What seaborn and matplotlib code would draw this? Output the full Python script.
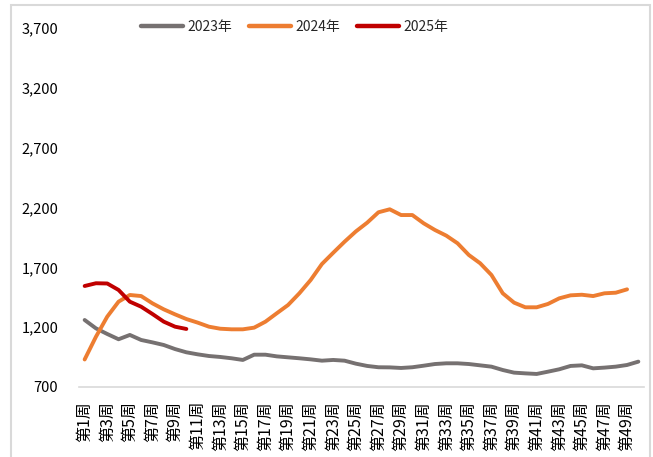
import pandas as pd
import seaborn as sns
import matplotlib.pyplot as plt
from matplotlib.patches import Rectangle
from matplotlib.lines import Line2D
from matplotlib.ticker import FuncFormatter

# weekly values
weeks = list(range(1, 51))
tick_weeks = list(range(1, 50, 2))
tick_labels = [f"第{w}周" for w in tick_weeks]

y2023 = [1260, 1190, 1143, 1099, 1135, 1093, 1073, 1051, 1017, 990,
         973, 959, 951, 940, 926, 970, 970, 956, 948, 940,
         931, 920, 926, 920, 895, 876, 865, 864, 859, 865,
         878, 892, 898, 898, 892, 881, 870, 842, 820, 814,
         809, 828, 848, 876, 881, 856, 862, 870, 884, 912]
y2024 = [930, 1120, 1288, 1413, 1469, 1460, 1399, 1349, 1307, 1268,
         1238, 1204, 1187, 1182, 1182, 1196, 1246, 1316, 1385, 1483,
         1594, 1728, 1822, 1914, 2000, 2073, 2160, 2185, 2137, 2137,
         2068, 2012, 1965, 1901, 1803, 1734, 1636, 1483, 1405, 1366,
         1366, 1394, 1441, 1466, 1471, 1460, 1483, 1488, 1516]
y2025 = [1544, 1567, 1565, 1511, 1413, 1371, 1310, 1246, 1204, 1185]

series = ["2023年", "2024年", "2025年"]
colors = ["#767171", "#ED7D31", "#C00000"]

rows = []
for name, vals in zip(series, [y2023, y2024, y2025]):
    for w, v in zip(weeks, vals):
        rows.append({"week": w, "value": v, "year": name})
df = pd.DataFrame(rows)

sns.set_theme(style="white")
plt.rcParams["font.family"] = ["Noto Sans CJK SC", "DejaVu Sans"]

fig = plt.figure(figsize=(6.53, 4.57), dpi=100)
ax = fig.add_axes([79 / 653, 70 / 457, 565 / 653, 359 / 457])

sns.lineplot(data=df, x="week", y="value", hue="year", hue_order=series,
             palette=colors, linewidth=2.8, ax=ax, legend=False,
             solid_capstyle="round")

ax.set_xlim(0.5, 50.5)
ax.set_ylim(700, 3700)
ax.set_yticks(range(700, 3701, 500))
ax.yaxis.set_major_formatter(FuncFormatter(lambda v, p: f"{int(v):,}"))
ax.set_xticks(tick_weeks)
ax.set_xticklabels(tick_labels, rotation=90, fontsize=11.5)
ax.tick_params(axis="y", length=0, pad=15, labelsize=10.5, colors="black")
ax.tick_params(axis="x", length=0, pad=10, colors="black")
ax.set_xlabel("")
ax.set_ylabel("")
for s in ["left", "top", "right"]:
    ax.spines[s].set_visible(False)
ax.spines["bottom"].set_color("#d9d9d9")
ax.spines["bottom"].set_linewidth(1.2)

handles = [Line2D([], [], color=c, linewidth=3.2, solid_capstyle="round") for c in colors]
fig.legend(handles, series, loc="center", bbox_to_anchor=(295 / 653, 1 - 27 / 457),
           ncol=3, frameon=False, handlelength=3.0, handletextpad=0.35,
           columnspacing=1.2, fontsize=10)

# light chart-area border
fig.patches.append(Rectangle((11 / 653, -0.1), 639 / 653, 1.1 - 5 / 457,
                             transform=fig.transFigure, fill=False,
                             edgecolor="#d9d9d9", linewidth=1.5))

fig.savefig("out.png", dpi=100)
